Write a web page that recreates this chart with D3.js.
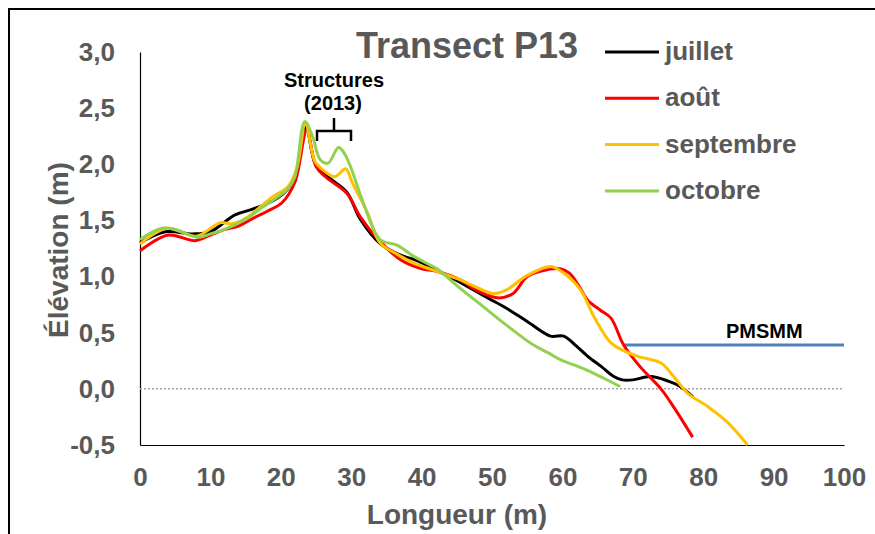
<!DOCTYPE html>
<html>
<head>
<meta charset="utf-8">
<script src="https://cdn.jsdelivr.net/npm/d3@7"></script>
<style>
  html, body { margin: 0; padding: 0; background: #fff; }
  svg { display: block; font-family: "Liberation Sans", Arial, sans-serif; }
</style>
</head>
<body>
<svg id="chart" width="875" height="534"></svg>
<script>
// ── Data ──────────────────────────────────────────────────────────────────────
const months = ['juillet', 'août', 'septembre', 'octobre'];
const colors = ['#000000', '#ff0000', '#ffc000', '#92d050'];

// [longueur (m), élévation (m)]
const juillet = [[0,1.30],[3.6,1.40],[7.5,1.38],[10,1.40],[13.5,1.55],[16,1.60],[19,1.68],[21,1.78],
  [22.3,1.95],[23.6,2.33],[24.8,2.02],[26,1.92],[27.5,1.85],[29.4,1.75],[31.3,1.51],[34,1.30],
  [37,1.19],[39,1.15],[43,1.03],[46,0.93],[49.4,0.81],[52,0.72],[55,0.60],[58.3,0.47],[60.2,0.47],
  [62,0.38],[63.6,0.29],[65.5,0.20],[67.3,0.11],[68.5,0.08],[70,0.08],[72.5,0.11],[75,0.07],
  [76.5,0.03],[78.5,-0.07]];

const aout = [[0,1.23],[4,1.37],[7.8,1.32],[10,1.37],[12.1,1.42],[14,1.45],[16.4,1.53],[18,1.58],
  [20.2,1.66],[22,1.84],[23.7,2.30],[25,1.98],[26.5,1.88],[29.4,1.74],[31.3,1.53],[34,1.32],
  [37,1.15],[40,1.07],[42,1.05],[45.5,0.97],[48,0.87],[51,0.81],[53,0.85],[55,1.00],[57,1.05],
  [59.7,1.07],[61,1.03],[62.5,0.90],[63.6,0.79],[65.4,0.70],[66.9,0.63],[68.7,0.39],[71,0.20],
  [74,0.00],[76,-0.18],[78.5,-0.43]];

const septembre = [[0,1.29],[3.8,1.43],[8,1.36],[11.4,1.48],[13,1.47],[15,1.52],[18.8,1.71],[21,1.80],
  [22.3,1.97],[23.5,2.36],[24.8,2.03],[25.6,1.97],[27.7,1.89],[29.2,1.96],[30.2,1.83],[32.3,1.57],
  [34.1,1.30],[36.5,1.20],[38.9,1.12],[42,1.05],[45.5,0.97],[48,0.90],[50.2,0.85],[52,0.88],
  [55,1.01],[58.3,1.09],[60,1.04],[62.6,0.88],[64.5,0.64],[66.9,0.41],[68.7,0.34],[70.7,0.29],
  [74,0.23],[75.8,0.11],[77.8,-0.04],[80.7,-0.16],[83.5,-0.30],[86.3,-0.50]];

const octobre = [[0,1.33],[3.1,1.43],[5,1.42],[8.3,1.35],[10,1.38],[12,1.42],[15,1.51],[17,1.60],
  [19.6,1.71],[21,1.78],[22,1.89],[23.4,2.38],[24.5,2.25],[25.6,2.04],[26.7,2.01],[28.2,2.15],
  [29,2.10],[29.9,1.98],[31.7,1.66],[34.1,1.33],[36.5,1.28],[38.9,1.18],[41.3,1.10],[42.2,1.07],
  [45,0.92],[48.8,0.73],[52,0.57],[55.9,0.39],[58,0.32],[59.7,0.26],[63,0.18],[66,0.09],[68.2,0.02]];

const series = [juillet, aout, septembre, octobre];

const pmsmm = [[68.7, 0.39], [100, 0.39]];
const zeroLine = [[0, 0], [100, 0]];

const xTicks = [0, 10, 20, 30, 40, 50, 60, 70, 80, 90, 100];
const yTicks = [-0.5, 0, 0.5, 1, 1.5, 2, 2.5, 3];

// ── Dimensions ────────────────────────────────────────────────────────────────
const plot = { left: 140, right: 844, top: 52, bottom: 445 };
const grey = '#595959';

const svg = d3.select('#chart');

// outer frame
svg.append('rect')
  .attr('x', 9).attr('y', 9)
  .attr('width', 1000).attr('height', 1000)
  .attr('fill', 'none')
  .attr('stroke', '#000')
  .attr('stroke-width', 2);

// Scales
const x = d3.scaleLinear().domain([0, 100]).range([plot.left, plot.right]);
const y = d3.scaleLinear().domain([-0.5, 3]).range([plot.bottom, plot.top]);

// Axes (French decimal comma, plain hyphen for minus)
const fmt = d => d.toFixed(1).replace('.', ',');

const yAxis = svg.append('g')
  .attr('transform', `translate(${plot.left},0)`)
  .call(d3.axisLeft(y).tickValues(yTicks).tickSize(0).tickPadding(25).tickFormat(fmt));

const xAxis = svg.append('g')
  .attr('transform', `translate(0,${plot.bottom})`)
  .call(d3.axisBottom(x).tickValues(xTicks).tickSize(0).tickPadding(23).tickFormat(d => String(d)));

[xAxis, yAxis].forEach(a => {
  a.select('.domain').attr('stroke', '#000').attr('stroke-width', 1.2);
  a.selectAll('text')
    .attr('fill', grey)
    .attr('font-size', 26)
    .attr('font-weight', 'bold')
    .attr('font-family', '"Liberation Sans", Arial, sans-serif');
});

// Zero line (dotted)
const line = d3.line()
  .x(d => x(d[0]))
  .y(d => y(d[1]));

svg.append('path')
  .datum(zeroLine)
  .attr('d', line)
  .attr('fill', 'none')
  .attr('stroke', '#a6a6a6')
  .attr('stroke-width', 1.5)
  .attr('stroke-dasharray', '2 2');

// PMSMM
svg.append('path')
  .datum(pmsmm)
  .attr('d', line)
  .attr('fill', 'none')
  .attr('stroke', '#4f81bd')
  .attr('stroke-width', 3);

svg.append('text')
  .attr('x', 726).attr('y', 338)
  .attr('font-size', 20)
  .attr('font-weight', 'bold')
  .attr('fill', '#000')
  .text('PMSMM');

// Profiles
const smooth = d3.line()
  .x(d => x(d[0]))
  .y(d => y(d[1]))
  .curve(d3.curveCatmullRom.alpha(0.5));

series.forEach((s, i) => {
  svg.append('path')
    .datum(s)
    .attr('d', smooth)
    .attr('fill', 'none')
    .attr('stroke', colors[i])
    .attr('stroke-width', 3)
    .attr('stroke-linejoin', 'round');
});

// ── Annotation Structures ─────────────────────────────────────────────────────
svg.append('text')
  .attr('x', 334).attr('y', 87)
  .attr('text-anchor', 'middle')
  .attr('font-size', 20).attr('font-weight', 'bold')
  .text('Structures');
svg.append('text')
  .attr('x', 333).attr('y', 110)
  .attr('text-anchor', 'middle')
  .attr('font-size', 20).attr('font-weight', 'bold')
  .text('(2013)');

svg.append('path')
  .attr('d', 'M317,141 L317,131 L351,131 L351,141 M334,131 L334,118')
  .attr('fill', 'none')
  .attr('stroke', '#000')
  .attr('stroke-width', 2.5);

// Title
svg.append('text')
  .attr('x', 467).attr('y', 58)
  .attr('text-anchor', 'middle')
  .attr('font-size', 36).attr('font-weight', 'bold')
  .attr('fill', grey)
  .text('Transect P13');

// Legend
const legend = svg.append('g');
months.forEach((m, i) => {
  const ly = 52 + i * 46.3;
  legend.append('line')
    .attr('x1', 605).attr('x2', 659)
    .attr('y1', ly).attr('y2', ly)
    .attr('stroke', colors[i])
    .attr('stroke-width', 3);
  legend.append('text')
    .attr('x', 665).attr('y', ly + 8)
    .attr('font-size', 26).attr('font-weight', 'bold')
    .attr('fill', grey)
    .text(m);
});

// Axis labels
svg.append('text')
  .attr('x', 457).attr('y', 524)
  .attr('text-anchor', 'middle')
  .attr('font-size', 28).attr('font-weight', 'bold')
  .attr('fill', grey)
  .text('Longueur (m)');

svg.append('text')
  .attr('transform', 'translate(68,250) rotate(-90)')
  .attr('text-anchor', 'middle')
  .attr('font-size', 28).attr('font-weight', 'bold')
  .attr('fill', grey)
  .text('Élévation (m)');
</script>
</body>
</html>
